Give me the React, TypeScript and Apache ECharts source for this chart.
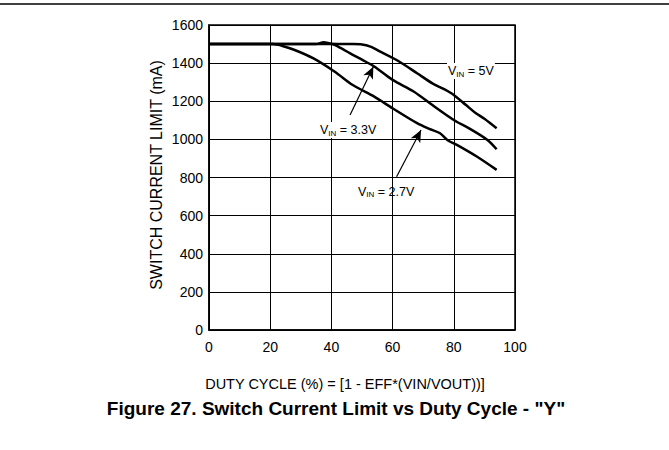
import React, { useEffect, useRef } from "react";
import * as echarts from "echarts";

const xTicks = [0, 20, 40, 60, 80, 100];
const yTicks = [0, 200, 400, 600, 800, 1000, 1200, 1400, 1600];

const vin5: [number, number][] = [
  [0, 1500], [35, 1500], [37.5, 1510], [40, 1502], [46, 1500], [50, 1498], [53, 1485],
  [56, 1460], [62, 1410], [68, 1347], [73, 1294], [77, 1262], [80, 1233], [84, 1180],
  [87, 1140], [90, 1108], [94, 1058],
];
const vin33: [number, number][] = [
  [0, 1500], [40, 1500], [43, 1480], [46, 1452], [50, 1418], [54, 1382], [60, 1312],
  [67, 1250], [73, 1180], [80, 1102], [85, 1058], [91, 997], [94, 948],
];
const vin27: [number, number][] = [
  [0, 1500], [21, 1500], [24, 1490], [28, 1469], [34, 1426], [41, 1356], [47, 1285],
  [54, 1224], [60, 1163], [68, 1085], [72, 1055], [75.5, 1032], [78, 995], [81, 971],
  [87.5, 910], [94, 840],
];
const arrow33: [number, number][] = [[46.1, 1128], [53.7, 1381]];
const arrow27: [number, number][] = [[61.3, 804], [69.3, 1049]];

const FONT = "Liberation Sans, Arial, sans-serif";

const rich = {
  a: { fontSize: 12.5, fontFamily: FONT, color: "#000" },
  s: { fontSize: 8, fontFamily: FONT, color: "#000", padding: [6, 0, 0, 0] },
};

export default function App() {
  const ref = useRef<HTMLDivElement>(null);
  useEffect(() => {
    const chart = echarts.init(ref.current!, null, { renderer: "svg" });
    const lineSeries = (name: string, data: [number, number][], arrow?: [number, number][]) => ({
      name,
      type: "line",
      data,
      showSymbol: false,
      smooth: 0.3,
      lineStyle: { color: "#000", width: 2.5 },
      z: 3,
      markLine: arrow
        ? {
            silent: true,
            symbol: ["none", "arrow"],
            symbolSize: [8, 12],
            label: { show: false },
            lineStyle: { color: "#000", width: 1.2, type: "solid" },
            data: [[{ coord: arrow[0] }, { coord: arrow[1] }]],
          }
        : undefined,
    });
    chart.setOption({
      animation: false,
      backgroundColor: "#fff",
      grid: {
        left: 209, top: 25, width: 306, height: 305,
        show: true, borderColor: "#000", borderWidth: 1.5, backgroundColor: "transparent",
      },
      xAxis: {
        type: "value", min: xTicks[0], max: xTicks[xTicks.length - 1], interval: 20,
        axisLine: { lineStyle: { color: "#000", width: 1.5 } },
        axisTick: { show: false },
        axisLabel: { fontFamily: FONT, fontSize: 14, color: "#000", margin: 10, formatter: (v: number) => String(v) },
        splitLine: { show: true, lineStyle: { color: "#000", width: 1 } },
      },
      yAxis: {
        type: "value", min: yTicks[0], max: yTicks[yTicks.length - 1], interval: 200,
        axisLine: { show: true, lineStyle: { color: "#000", width: 1.5 } },
        axisTick: { show: false },
        axisLabel: { fontFamily: FONT, fontSize: 14, color: "#000", margin: 6, formatter: (v: number) => String(v) },
        splitLine: { show: true, lineStyle: { color: "#000", width: 1 } },
      },
      series: [
        lineSeries("VIN = 5V", vin5),
        lineSeries("VIN = 3.3V", vin33, arrow33),
        lineSeries("VIN = 2.7V", vin27, arrow27),
      ],
      graphic: [
        { type: "line", shape: { x1: 0, y1: 4, x2: 669, y2: 4 }, style: { stroke: "#000", lineWidth: 1.5 } },
        {
          type: "text", x: 156, y: 175, rotation: Math.PI / 2,
          style: {
            text: "SWITCH CURRENT LIMIT (mA)", fontFamily: FONT, fontSize: 16, fill: "#000",
            align: "center", verticalAlign: "middle",
          },
        },
        {
          type: "text", x: 345, y: 384,
          style: {
            text: "DUTY CYCLE (%) = [1 - EFF*(VIN/VOUT))]", fontFamily: FONT, fontSize: 14.5, fill: "#000",
            align: "center", verticalAlign: "middle",
          },
        },
        {
          type: "text", left: 447, top: 63, z: 10,
          style: { text: "{a|V}{s|IN}{a| = 5V}", rich, backgroundColor: "#fff", padding: [1, 1] },
        },
        {
          type: "text", left: 319, top: 122, z: 10,
          style: { text: "{a|V}{s|IN}{a| = 3.3V}", rich, backgroundColor: "#fff", padding: [1, 1] },
        },
        {
          type: "text", left: 358, top: 185, z: 10,
          style: { text: "{a|V}{s|IN}{a| = 2.7V}", rich },
        },
        {
          type: "text", x: 336, y: 408,
          style: {
            text: 'Figure 27. Switch Current Limit vs Duty Cycle - "Y"',
            fontFamily: FONT, fontSize: 19, fontWeight: "bold", fill: "#000",
            align: "center", verticalAlign: "middle",
          },
        },
      ],
    });
    return () => chart.dispose();
  }, []);
  return (
    <div
      ref={ref}
      style={{ position: "fixed", left: 0, top: 0, width: 669, height: 450, background: "#fff" }}
    />
  );
}
